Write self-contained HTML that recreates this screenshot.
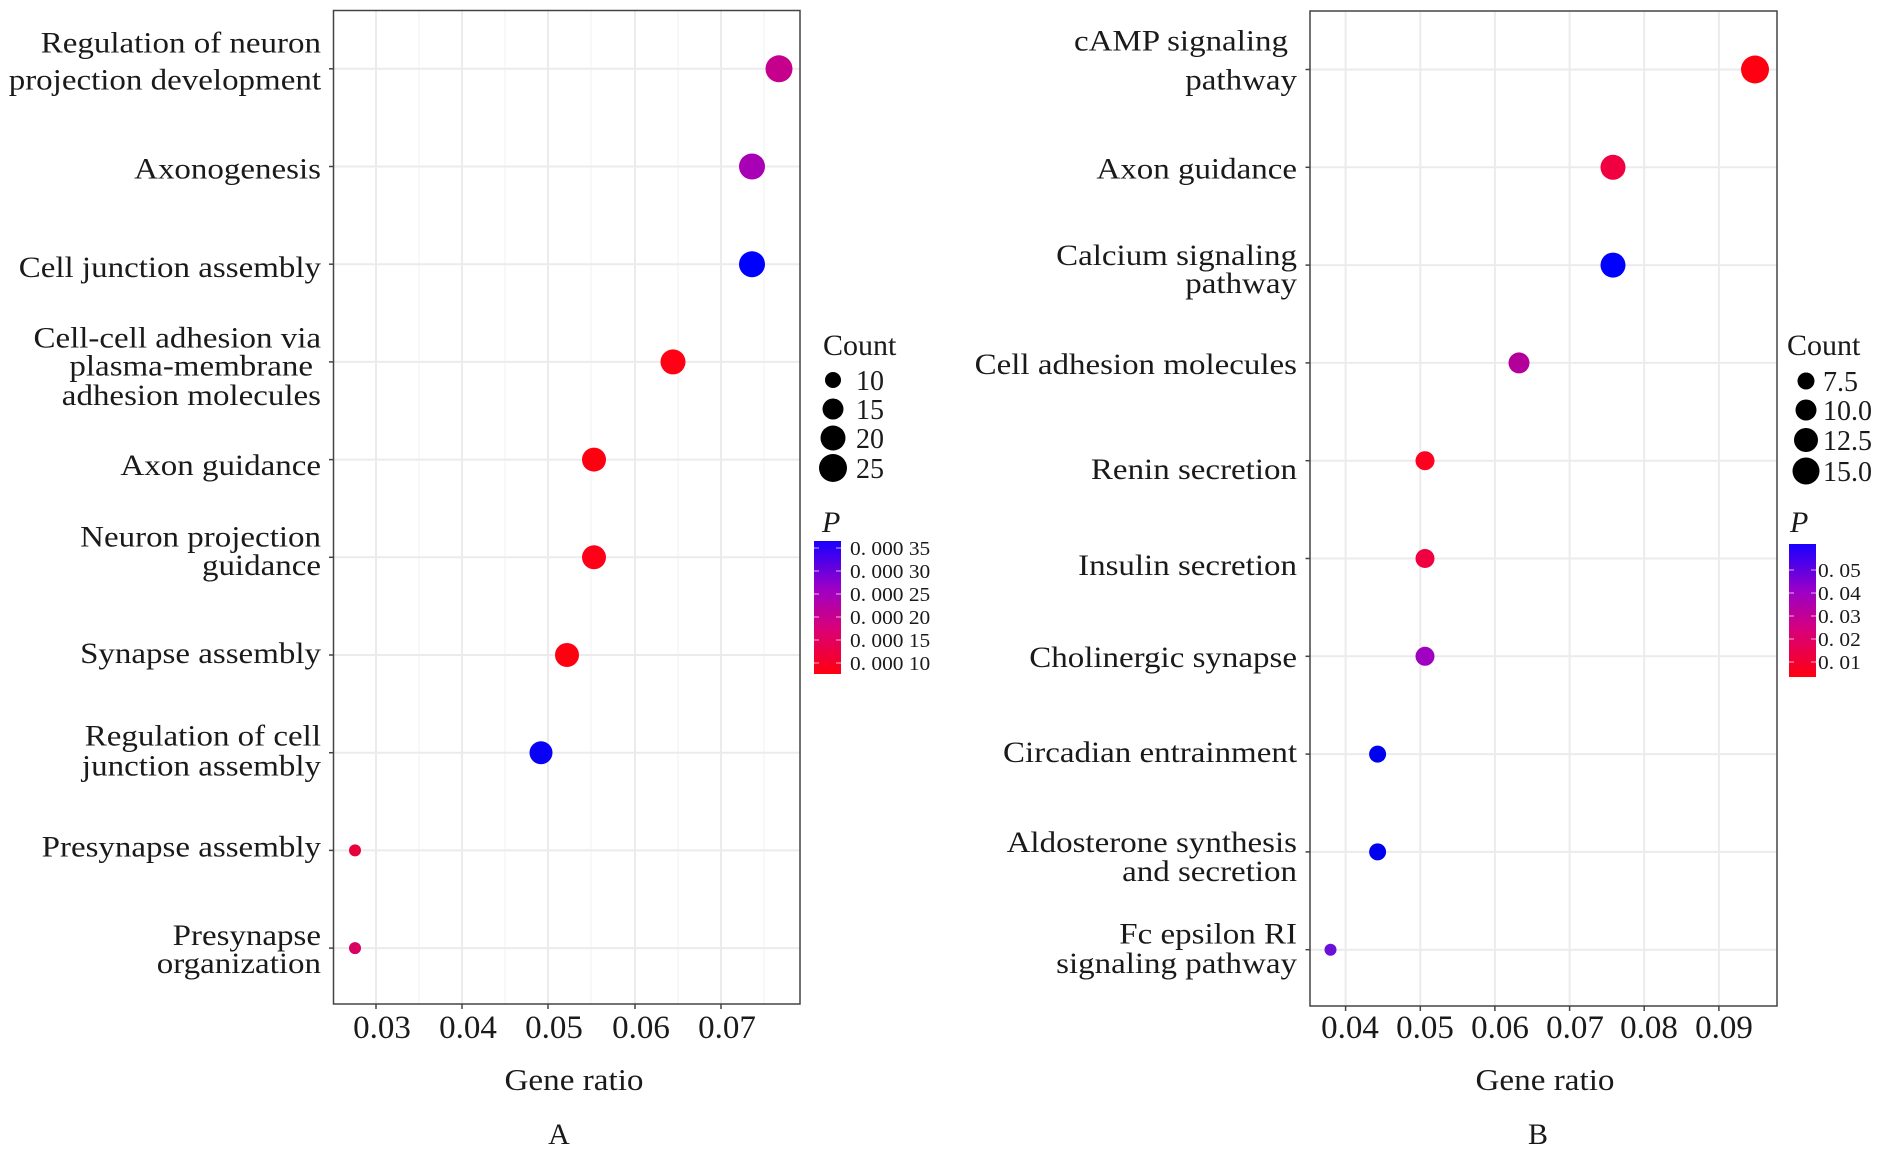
<!DOCTYPE html>
<html><head><meta charset="utf-8"><style>
html,body{margin:0;padding:0;background:#fff;}
svg{display:block;}
text{font-family:"Liberation Serif",serif;fill:#1a1a1a;}
.lab{font-size:30px;}
.tick{font-size:33px;fill:#333;}
.leg{font-size:28px;}
.cb{font-size:20px;fill:#333;}
</style></head><body>
<svg width="1888" height="1172" viewBox="0 0 1888 1172" xmlns="http://www.w3.org/2000/svg">
<defs>
<linearGradient id="g" x1="0" y1="0" x2="0" y2="1">
<stop offset="0" stop-color="#1a00ff"/><stop offset="0.35" stop-color="#9a00c8"/><stop offset="0.65" stop-color="#d8007a"/><stop offset="1" stop-color="#ff0010"/>
</linearGradient>
</defs>
<!-- Panel A -->
<g>
<rect x="333.5" y="10.5" width="466.5" height="993.5" fill="#fff"/>
<g stroke="#f3f3f3" stroke-width="1.2">
<line x1="419" y1="11" x2="419" y2="1004"/><line x1="505" y1="11" x2="505" y2="1004"/><line x1="591" y1="11" x2="591" y2="1004"/><line x1="678" y1="11" x2="678" y2="1004"/><line x1="764" y1="11" x2="764" y2="1004"/>
</g>
<g stroke="#ebebeb" stroke-width="2">
<line x1="376" y1="11" x2="376" y2="1004"/><line x1="462" y1="11" x2="462" y2="1004"/><line x1="548" y1="11" x2="548" y2="1004"/><line x1="635" y1="11" x2="635" y2="1004"/><line x1="721" y1="11" x2="721" y2="1004"/>
<line x1="334" y1="68.8" x2="800" y2="68.8"/><line x1="334" y1="166.5" x2="800" y2="166.5"/><line x1="334" y1="264.2" x2="800" y2="264.2"/><line x1="334" y1="361.9" x2="800" y2="361.9"/><line x1="334" y1="459.6" x2="800" y2="459.6"/><line x1="334" y1="557.3" x2="800" y2="557.3"/><line x1="334" y1="655" x2="800" y2="655"/><line x1="334" y1="752.7" x2="800" y2="752.7"/><line x1="334" y1="850.4" x2="800" y2="850.4"/><line x1="334" y1="948.1" x2="800" y2="948.1"/>
</g>
<rect x="333.5" y="10.5" width="466.5" height="993.5" fill="none" stroke="#444" stroke-width="1.5"/>
<g stroke="#444" stroke-width="1.5">
<line x1="329" y1="68.8" x2="333.5" y2="68.8"/><line x1="329" y1="166.5" x2="333.5" y2="166.5"/><line x1="329" y1="264.2" x2="333.5" y2="264.2"/><line x1="329" y1="361.9" x2="333.5" y2="361.9"/><line x1="329" y1="459.6" x2="333.5" y2="459.6"/><line x1="329" y1="557.3" x2="333.5" y2="557.3"/><line x1="329" y1="655" x2="333.5" y2="655"/><line x1="329" y1="752.7" x2="333.5" y2="752.7"/><line x1="329" y1="850.4" x2="333.5" y2="850.4"/><line x1="329" y1="948.1" x2="333.5" y2="948.1"/>
<line x1="376" y1="1004" x2="376" y2="1009"/><line x1="462" y1="1004" x2="462" y2="1009"/><line x1="548" y1="1004" x2="548" y2="1009"/><line x1="635" y1="1004" x2="635" y2="1009"/><line x1="721" y1="1004" x2="721" y2="1009"/>
</g>
<circle cx="779" cy="68.8" r="13.5" fill="#c4008c"/>
<circle cx="752" cy="166.5" r="13" fill="#a800b4"/>
<circle cx="752" cy="264.2" r="13" fill="#0000ff"/>
<circle cx="673" cy="361.9" r="12.5" fill="#ff0014"/>
<circle cx="594" cy="459.6" r="12" fill="#ff0010"/>
<circle cx="594" cy="557.3" r="12" fill="#ff0018"/>
<circle cx="567" cy="655" r="12" fill="#ff0010"/>
<circle cx="541" cy="752.7" r="11.5" fill="#0a00f5"/>
<circle cx="355" cy="850.4" r="6" fill="#e8003a"/>
<circle cx="355" cy="948.1" r="6" fill="#d80062"/>
<g class="lab" text-anchor="end">
<text transform="translate(321,52.6) scale(1.1,1)">Regulation of neuron</text>
<text transform="translate(321,89.4) scale(1.1,1)">projection development</text>
<text transform="translate(321,178.5) scale(1.1,1)">Axonogenesis</text>
<text transform="translate(321,277) scale(1.1,1)">Cell junction assembly</text>
<text transform="translate(321,347.5) scale(1.1,1)">Cell-cell adhesion via</text>
<text transform="translate(313,375.7) scale(1.1,1)">plasma-membrane</text>
<text transform="translate(321,405) scale(1.1,1)">adhesion molecules</text>
<text transform="translate(321,475) scale(1.1,1)">Axon guidance</text>
<text transform="translate(321,546.6) scale(1.1,1)">Neuron projection</text>
<text transform="translate(321,574.8) scale(1.1,1)">guidance</text>
<text transform="translate(321,663) scale(1.1,1)">Synapse assembly</text>
<text transform="translate(321,745.7) scale(1.1,1)">Regulation of cell</text>
<text transform="translate(321,775.7) scale(1.1,1)">junction assembly</text>
<text transform="translate(321,856.5) scale(1.1,1)">Presynapse assembly</text>
<text transform="translate(321,944.8) scale(1.1,1)">Presynapse</text>
<text transform="translate(321,973) scale(1.1,1)">organization</text>
</g>
<g class="tick" text-anchor="middle">
<text x="382" y="1038">0.03</text><text x="468" y="1038">0.04</text><text x="554" y="1038">0.05</text><text x="641" y="1038">0.06</text><text x="727" y="1038">0.07</text>
</g>
<text x="574" y="1090" text-anchor="middle" style="font-size:31px" transform="translate(574,0) scale(1.07,1) translate(-574,0)">Gene ratio</text>
<text x="559" y="1144" text-anchor="middle" style="font-size:30px">A</text>
<!-- legend A -->
<text x="823" y="355" style="font-size:30px">Count</text>
<circle cx="833" cy="380" r="8" fill="#000"/><circle cx="833" cy="409" r="10.5" fill="#000"/><circle cx="833" cy="438" r="12.5" fill="#000"/><circle cx="833" cy="468" r="14" fill="#000"/>
<g class="leg"><text x="856" y="390">10</text><text x="856" y="419">15</text><text x="856" y="448">20</text><text x="856" y="478">25</text></g>
<text x="822" y="532" style="font-size:30px;font-style:italic">P</text>
<rect x="814" y="541" width="27" height="133" fill="url(#g)"/>
<g stroke="#fff" stroke-opacity="0.6" stroke-width="1.2">
<line x1="814" y1="548" x2="819" y2="548"/><line x1="836" y1="548" x2="841" y2="548"/>
<line x1="814" y1="571" x2="819" y2="571"/><line x1="836" y1="571" x2="841" y2="571"/>
<line x1="814" y1="594" x2="819" y2="594"/><line x1="836" y1="594" x2="841" y2="594"/>
<line x1="814" y1="617" x2="819" y2="617"/><line x1="836" y1="617" x2="841" y2="617"/>
<line x1="814" y1="640" x2="819" y2="640"/><line x1="836" y1="640" x2="841" y2="640"/>
<line x1="814" y1="663" x2="819" y2="663"/><line x1="836" y1="663" x2="841" y2="663"/>
</g>
<g class="cb">
<text transform="translate(850,555) scale(1.07,1)">0. 000 35</text><text transform="translate(850,578) scale(1.07,1)">0. 000 30</text><text transform="translate(850,601) scale(1.07,1)">0. 000 25</text><text transform="translate(850,624) scale(1.07,1)">0. 000 20</text><text transform="translate(850,647) scale(1.07,1)">0. 000 15</text><text transform="translate(850,670) scale(1.07,1)">0. 000 10</text>
</g>
</g>
<!-- Panel B -->
<g>
<g stroke="#ebebeb" stroke-width="2">
<line x1="1345.6" y1="11" x2="1345.6" y2="1006"/><line x1="1420.3" y1="11" x2="1420.3" y2="1006"/><line x1="1494.9" y1="11" x2="1494.9" y2="1006"/><line x1="1569.6" y1="11" x2="1569.6" y2="1006"/><line x1="1644.2" y1="11" x2="1644.2" y2="1006"/><line x1="1718.9" y1="11" x2="1718.9" y2="1006"/>
<line x1="1310" y1="69.5" x2="1777" y2="69.5"/><line x1="1310" y1="167.3" x2="1777" y2="167.3"/><line x1="1310" y1="265.1" x2="1777" y2="265.1"/><line x1="1310" y1="362.9" x2="1777" y2="362.9"/><line x1="1310" y1="460.7" x2="1777" y2="460.7"/><line x1="1310" y1="558.5" x2="1777" y2="558.5"/><line x1="1310" y1="656.3" x2="1777" y2="656.3"/><line x1="1310" y1="754.1" x2="1777" y2="754.1"/><line x1="1310" y1="851.9" x2="1777" y2="851.9"/><line x1="1310" y1="949.7" x2="1777" y2="949.7"/>
</g>
<rect x="1310" y="11" width="467" height="995" fill="none" stroke="#444" stroke-width="1.5"/>
<g stroke="#444" stroke-width="1.5">
<line x1="1305.5" y1="69.5" x2="1310" y2="69.5"/><line x1="1305.5" y1="167.3" x2="1310" y2="167.3"/><line x1="1305.5" y1="265.1" x2="1310" y2="265.1"/><line x1="1305.5" y1="362.9" x2="1310" y2="362.9"/><line x1="1305.5" y1="460.7" x2="1310" y2="460.7"/><line x1="1305.5" y1="558.5" x2="1310" y2="558.5"/><line x1="1305.5" y1="656.3" x2="1310" y2="656.3"/><line x1="1305.5" y1="754.1" x2="1310" y2="754.1"/><line x1="1305.5" y1="851.9" x2="1310" y2="851.9"/><line x1="1305.5" y1="949.7" x2="1310" y2="949.7"/>
<line x1="1345.6" y1="1006" x2="1345.6" y2="1011"/><line x1="1420.3" y1="1006" x2="1420.3" y2="1011"/><line x1="1494.9" y1="1006" x2="1494.9" y2="1011"/><line x1="1569.6" y1="1006" x2="1569.6" y2="1011"/><line x1="1644.2" y1="1006" x2="1644.2" y2="1011"/><line x1="1718.9" y1="1006" x2="1718.9" y2="1011"/>
</g>
<circle cx="1755" cy="69.5" r="14" fill="#ff0010"/>
<circle cx="1613" cy="167.3" r="12.5" fill="#f00040"/>
<circle cx="1613" cy="265.1" r="12.5" fill="#0000ff"/>
<circle cx="1519" cy="362.9" r="10.5" fill="#b4009a"/>
<circle cx="1425" cy="460.7" r="9.5" fill="#ff0020"/>
<circle cx="1425" cy="558.5" r="9.5" fill="#f00040"/>
<circle cx="1425" cy="656.3" r="9.5" fill="#a000c0"/>
<circle cx="1377.6" cy="754.1" r="8.5" fill="#0000f0"/>
<circle cx="1377.6" cy="851.9" r="8.5" fill="#0000f0"/>
<circle cx="1330.5" cy="949.7" r="6" fill="#6a10d8"/>
<g class="lab" text-anchor="end">
<text transform="translate(1288,50.7) scale(1.1,1)">cAMP signaling</text>
<text transform="translate(1297,89.4) scale(1.1,1)">pathway</text>
<text transform="translate(1297,178.5) scale(1.1,1)">Axon guidance</text>
<text transform="translate(1297,265) scale(1.1,1)">Calcium signaling</text>
<text transform="translate(1297,293) scale(1.1,1)">pathway</text>
<text transform="translate(1297,374) scale(1.1,1)">Cell adhesion molecules</text>
<text transform="translate(1297,479) scale(1.1,1)">Renin secretion</text>
<text transform="translate(1297,575) scale(1.1,1)">Insulin secretion</text>
<text transform="translate(1297,667) scale(1.1,1)">Cholinergic synapse</text>
<text transform="translate(1297,762) scale(1.1,1)">Circadian entrainment</text>
<text transform="translate(1297,852) scale(1.1,1)">Aldosterone synthesis</text>
<text transform="translate(1297,881) scale(1.1,1)">and secretion</text>
<text transform="translate(1297,943.7) scale(1.1,1)">Fc epsilon RI</text>
<text transform="translate(1297,973) scale(1.1,1)">signaling pathway</text>
</g>
<g class="tick" text-anchor="middle">
<text x="1350" y="1038">0.04</text><text x="1425" y="1038">0.05</text><text x="1500" y="1038">0.06</text><text x="1575" y="1038">0.07</text><text x="1649" y="1038">0.08</text><text x="1724" y="1038">0.09</text>
</g>
<text x="1545" y="1090" text-anchor="middle" style="font-size:31px" transform="translate(1545,0) scale(1.07,1) translate(-1545,0)">Gene ratio</text>
<text x="1538" y="1144" text-anchor="middle" style="font-size:30px">B</text>
<!-- legend B -->
<text x="1787" y="355" style="font-size:30px">Count</text>
<circle cx="1806" cy="381" r="8.5" fill="#000"/><circle cx="1806" cy="410" r="10.5" fill="#000"/><circle cx="1806" cy="440" r="12" fill="#000"/><circle cx="1806" cy="471" r="13.5" fill="#000"/>
<g class="leg"><text x="1823" y="391">7.5</text><text x="1823" y="420">10.0</text><text x="1823" y="450">12.5</text><text x="1823" y="481">15.0</text></g>
<text x="1790" y="532" style="font-size:30px;font-style:italic">P</text>
<rect x="1789" y="544" width="27" height="133" fill="url(#g)"/>
<g stroke="#fff" stroke-opacity="0.6" stroke-width="1.2">
<line x1="1789" y1="570" x2="1794" y2="570"/><line x1="1811" y1="570" x2="1816" y2="570"/>
<line x1="1789" y1="593" x2="1794" y2="593"/><line x1="1811" y1="593" x2="1816" y2="593"/>
<line x1="1789" y1="616" x2="1794" y2="616"/><line x1="1811" y1="616" x2="1816" y2="616"/>
<line x1="1789" y1="639" x2="1794" y2="639"/><line x1="1811" y1="639" x2="1816" y2="639"/>
<line x1="1789" y1="662" x2="1794" y2="662"/><line x1="1811" y1="662" x2="1816" y2="662"/>
</g>
<g class="cb">
<text transform="translate(1818,577) scale(1.07,1)">0. 05</text><text transform="translate(1818,600) scale(1.07,1)">0. 04</text><text transform="translate(1818,623) scale(1.07,1)">0. 03</text><text transform="translate(1818,646) scale(1.07,1)">0. 02</text><text transform="translate(1818,669) scale(1.07,1)">0. 01</text>
</g>
</g>
</svg>
</body></html>
